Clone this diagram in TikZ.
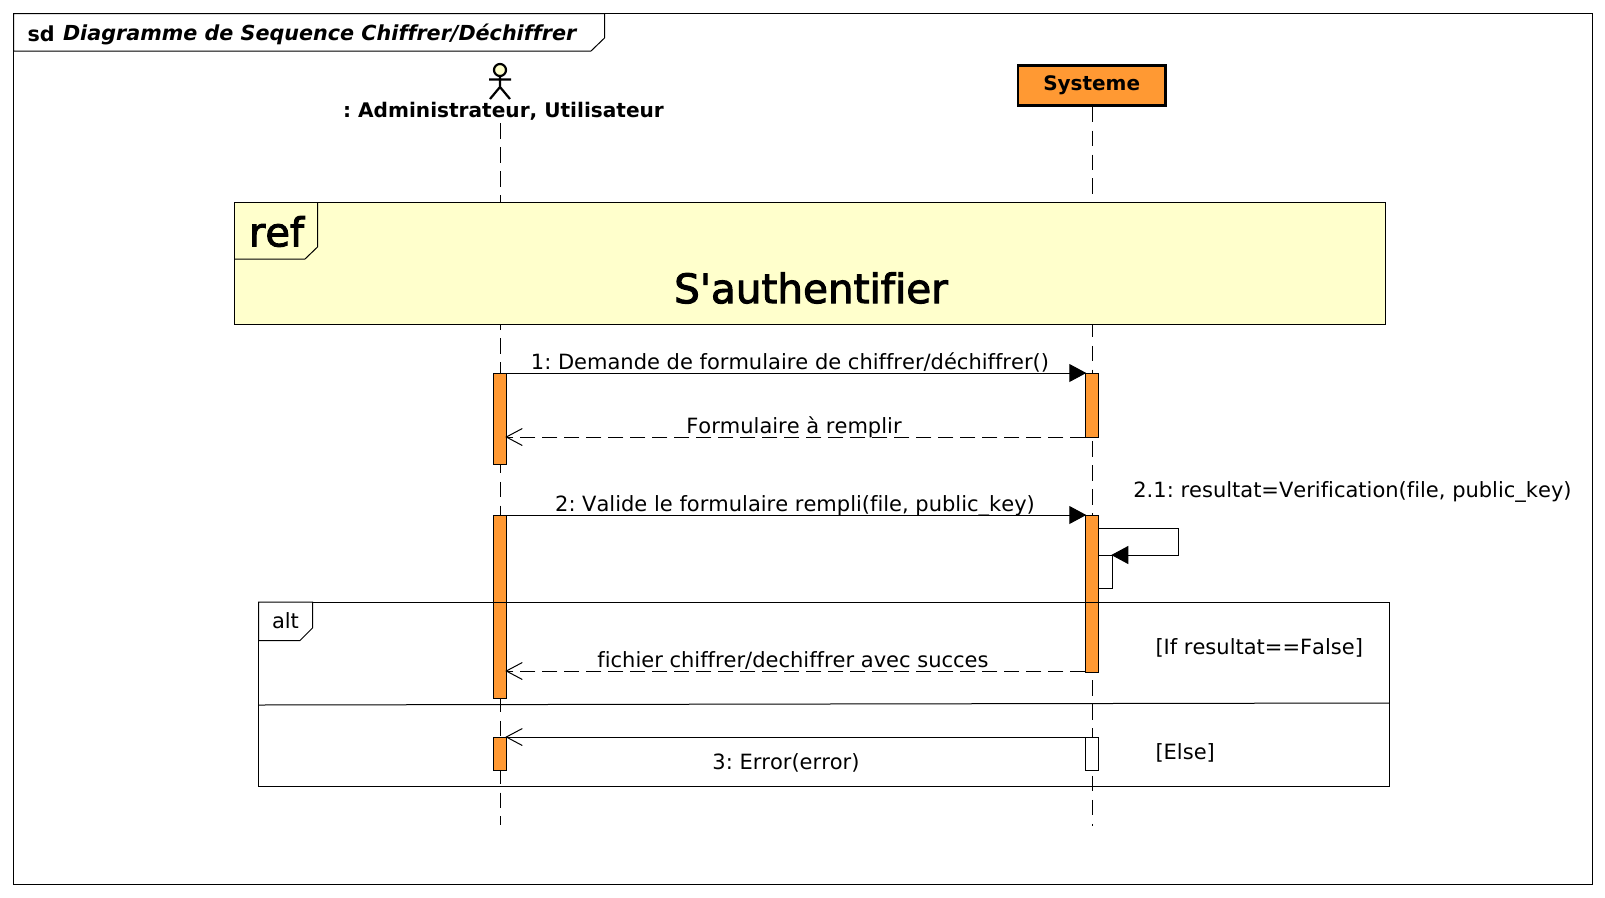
\documentclass[tikz,border=0pt]{standalone}
\usepackage{fontspec}
\newfontfamily\dvfont{DejaVu Sans}[RawFeature={-liga;-clig},Kerning=Off]
\newfontfamily\dvsemi{DejaVu Sans}[RawFeature={-liga;-clig},Kerning=Off,FakeBold=2.5]
\usetikzlibrary{arrows.meta}
\definecolor{actorange}{HTML}{FF9933}
\definecolor{refyellow}{HTML}{FFFFCC}
\definecolor{headyellow}{HTML}{FFFFCC}
\tikzset{
  every picture/.style={x=1pt,y=-1pt,line width=1pt,line join=miter},
  lifeline/.style={line width=1pt,dash pattern=on 15.5pt off 8.4pt},
  act/.style={draw,fill=actorange,minimum width=13.5pt,inner sep=0pt,outer sep=0pt},
  actw/.style={act,fill=white},
  msg/.style={font=\dvfont\fontsize{21}{24}\selectfont,inner sep=0pt},
  sync/.style={-{Triangle[length=17pt,width=18pt]},shorten >=-1pt},
  reply/.style={-{Straight Barb[length=16pt,width=17pt,line width=1pt]},shorten >=-1.5pt},
  dashmsg/.style={reply,dash pattern=on 15pt off 7pt},
  boldtext/.style={inner sep=0pt,font=\dvfont\fontsize{20.1}{24}\selectfont\bfseries}
}
\begin{document}
\begin{tikzpicture}
\dvfont\frenchspacing
\useasboundingbox (0,0) rectangle (1605,897);
% outer frame
\draw (13.5,13.5) rectangle (1592.5,884);
\draw[fill=white] (13.5,13.5) -- (604.5,13.5) -- (604.5,38) -- (591,51) -- (13.5,51) -- cycle;
\node[boldtext,anchor=west,font=\dvfont\fontsize{20.7}{24}\selectfont\bfseries] (sdtag) at (27,34) {sd};
\node[boldtext,anchor=west,font=\dvfont\fontsize{20.7}{24}\selectfont\bfseries\itshape] (sdtitle) at (62.5,34.5) {Diagramme de Sequence Chiffrer/Déchiffrer};
% participants
\coordinate (actorfoot) at (500,123.3);
\coordinate (actorend) at (500,825);
\coordinate (sysend) at (1092.3,825.5);
\node[draw,line width=2.7pt,fill=actorange,minimum width=147.3pt,minimum height=39.8pt,inner sep=0pt,font=\dvfont\fontsize{20}{24}\selectfont\bfseries,text height=15pt,text depth=9pt] (sys) at (1091.7,85.5) {\raisebox{-1.5pt}{Systeme}};
\draw[lifeline] (actorfoot) -- (actorend);
\draw[lifeline] (sys.south -| sysend) -- (sysend);
% actor
\draw[fill=headyellow,line width=2.2pt] (500,70) circle (6pt);
\draw[line width=2.2pt] (500,76) -- (500,87) (489,79.5) -- (511,79.5) (490,99) -- (500,87) -- (510,99);
\node[boldtext] (actor) at (503.5,111.5) {: Administrateur, Utilisateur};
% ref
\draw[fill=refyellow] (234.5,202) rectangle (1385.5,324.5);
\draw (234.5,259) -- (305,259) -- (317.5,247) -- (317.5,202);
\node[inner sep=0pt,font=\dvsemi\fontsize{40}{48}\selectfont] (reftag) at (276.5,231.5) {ref};
\node[inner sep=0pt,font=\dvsemi\fontsize{40.5}{48}\selectfont] (refname) at (811,288) {S'authentifier};
% activations
\node[act,minimum height=91pt] (a1) at (500,418.5) {};
\node[act,minimum height=64pt] (b1) at (1092,405) {};
\node[act,minimum height=183pt] (a2) at (500,606.5) {};
\node[act,minimum height=157pt] (b2) at (1092,593.5) {};
\node[actw,minimum height=33pt,minimum width=14pt] (b3) at (1105.5,571.5) {};
\node[act,minimum height=33pt] (a3) at (500,753.5) {};
\node[actw,minimum height=33pt] (b4) at (1092,753.5) {};
% messages
\draw[sync] (a1.north east) -- (b1.north west);
\node[msg] (l1) at (790,362) {1: Demande de formulaire de chiffrer/déchiffrer()};
\draw[dashmsg] (b1.south west) -- (a1.east |- b1.south);
\node[msg] (l2) at (794,427) {Formulaire à remplir};
\draw[sync] (a2.north east) -- (b2.north west);
\node[msg] (l3) at (795,506) {2: Valide le formulaire rempli(file, public\_key)};
\node[msg] (l4) at (1352.5,492) {2.1: resultat=Verification(file, public\_key)};
\coordinate (selfa) at (1178.5,528);
\coordinate (selfb) at (1178.5,555);
\draw[sync,shorten >=-1.2pt] (b2.east |- selfa) -- (selfa) -- (selfb) -- (b3.north east);
% alt
\draw (258.5,602) rectangle (1389,786);
\draw[fill=white] (258.5,602) -- (312.5,602) -- (312.5,628) -- (300,640.5) -- (258.5,640.5) -- cycle;
\node[msg] (alttag) at (285.5,621) {alt};
\draw (258.5,705) -- (1389,703);
\node[msg,anchor=west] (g1) at (1155,648) {[If resultat==False]};
\node[msg,anchor=west] (g2) at (1155,753) {[Else]};
\draw[dashmsg] (b2.south west) ++(0,-1) -- (a2.east |- 0,671);
\node[msg] (l5) at (793,660) {fichier chiffrer/dechiffrer avec succes};
\draw[reply] (b4.north west) -- (a3.north east);
\node[msg] (l6) at (786,763) {3: Error(error)};
\end{tikzpicture}
\end{document}
